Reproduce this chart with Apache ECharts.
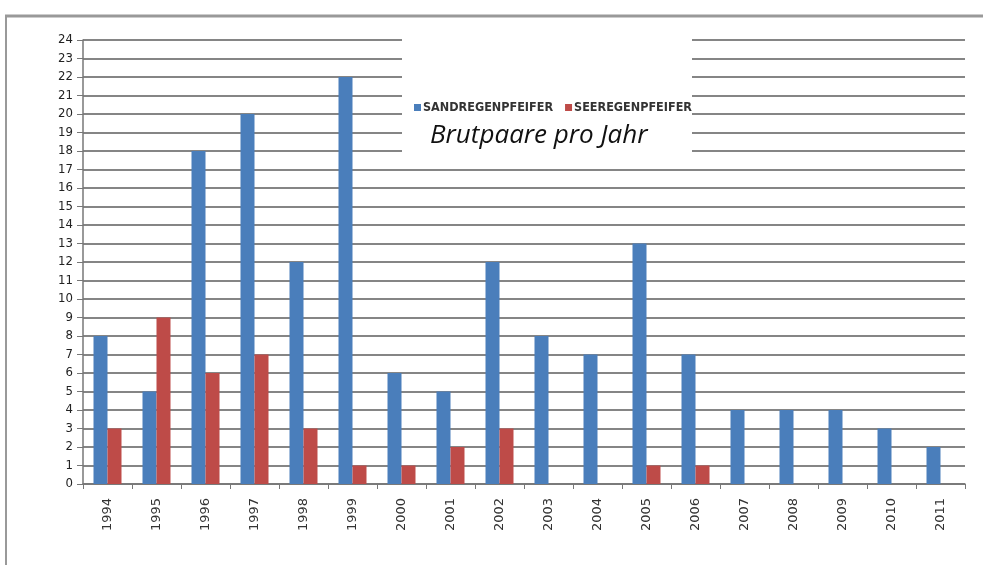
<!DOCTYPE html>
<html>
<head>
<meta charset="utf-8">
<script src="https://cdn.jsdelivr.net/npm/echarts@6/dist/echarts.min.js"></script>
<style>html,body{margin:0;padding:0;background:#fff}#c{width:983px;height:565px}</style>
</head>
<body>
<div id="c"></div>
<script>
const years = ['1994','1995','1996','1997','1998','1999','2000','2001','2002','2003','2004','2005','2006','2007','2008','2009','2010','2011'];
const sandregenpfeifer = [8,5,18,20,12,22,6,5,12,8,7,13,7,4,4,4,3,2];
const seeregenpfeifer = [3,9,6,7,3,1,1,2,3,0,0,1,1,0,0,0,0,0];
const seriesNames = ['SANDREGENPFEIFER','SEEREGENPFEIFER'];
const chartTitle = 'Brutpaare pro Jahr';

const chart = echarts.init(document.getElementById('c'));
chart.setOption({
  animation: false,
  backgroundColor: '#fff',
  graphic: [
    {type:'line', shape:{x1:5,y1:16,x2:983,y2:16}, style:{stroke:'#999',lineWidth:3}, z:0},
    {type:'line', shape:{x1:6,y1:16,x2:6,y2:565}, style:{stroke:'#999',lineWidth:2}, z:0},
    {type:'rect', shape:{x:402,y:36,width:290,height:126}, style:{fill:'#fff'}, z:3, silent:true}
  ],
  title: {
    text: chartTitle, left: 425, top: 118,
    textStyle: {fontFamily:'Open Sans', fontStyle:'italic', fontWeight:'normal', fontSize:26, color:'#111'},
    z: 10
  },
  legend: {
    left: 409, top: 96, itemWidth: 7, itemHeight: 7, itemGap: 12,
    icon: 'rect',
    textStyle: {fontFamily:'DejaVu Sans Condensed, Roboto, sans-serif', fontWeight:'bold', fontSize:12.5, color:'#333', padding:[0,0,0,-3]},
    data: seriesNames, z: 10
  },
  grid: {left: 83, right: 18, top: 40, bottom: 81},
  xAxis: {
    type: 'category', data: years,
    axisLine: {lineStyle:{color:'#777', width:1.5}},
    axisTick: {show:true, alignWithLabel:false, length:5, lineStyle:{color:'#777'}},
    axisLabel: {rotate: 90, fontSize: 13, color: '#333', margin: 14, fontFamily: 'DejaVu Sans, sans-serif'}
  },
  yAxis: {
    type: 'value', min: 0, max: 24, interval: 1,
    axisLine: {show:true, lineStyle:{color:'#777', width:1.5}},
    axisTick: {show:true, length:6, lineStyle:{color:'#777'}},
    axisLabel: {fontSize: 13, color:'#222', margin: 10, fontFamily:'DejaVu Sans Condensed, Roboto, sans-serif'},
    splitLine: {lineStyle:{color:'#858585', width:2}}
  },
  series: [
    {name: seriesNames[0], type:'bar', data: sandregenpfeifer, barWidth: 14, barGap: '0%', itemStyle:{color:'#4a7ebb'}},
    {name: seriesNames[1], type:'bar', data: seeregenpfeifer, barWidth: 14, barGap: '0%', itemStyle:{color:'#be4b48'}}
  ]
});
</script>
</body>
</html>
